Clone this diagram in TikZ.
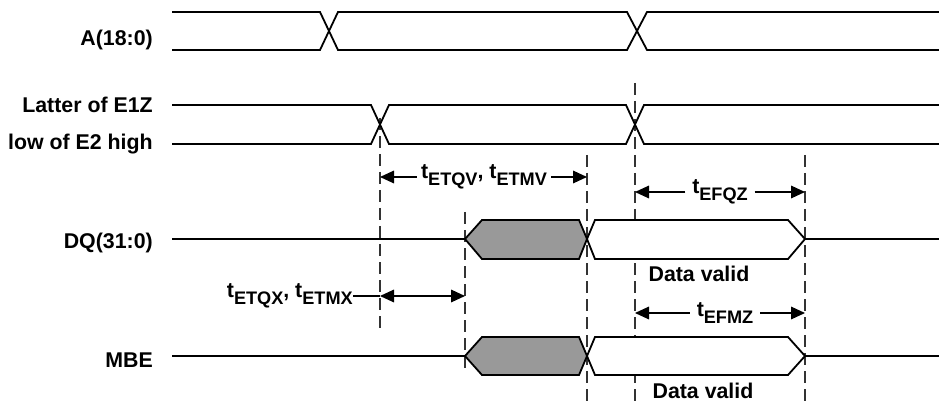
\documentclass[tikz,border=0pt]{standalone}
\usepackage{fontspec}
\setmainfont{Liberation Sans}
\usetikzlibrary{arrows.meta}
\newcommand{\tsig}[1]{t\raisebox{-0.33em}{\fontsize{13.6}{15}\selectfont #1}}
\tikzset{
  wave/.style={line width=1.35pt, line join=miter},
  guide/.style={dash pattern=on 9pt off 4.5pt, line width=0.8pt, black!80},
  lbl/.style={font=\fontsize{16}{19}\selectfont\bfseries, inner sep=0pt},
  tm/.style={-{Triangle[length=10.5pt,width=9.5pt]}, line width=0.9pt},
  tmm/.style={{Triangle[length=10.5pt,width=9.5pt]}-{Triangle[length=10.5pt,width=9.5pt]}, line width=0.9pt},
}
\begin{document}
\begin{tikzpicture}[x=0.75pt,y=-0.75pt]
\useasboundingbox (0,0) rectangle (939,406);
\coordinate (g1t) at (380,118);
\coordinate (g1b) at (380,330);
\coordinate (g2t) at (465,212);
\coordinate (g2b) at (465,368);
\coordinate (g3t) at (587,155);
\coordinate (g3b) at (587,406);
\coordinate (g4t) at (635,83);
\coordinate (g4b) at (635,406);
\coordinate (g5t) at (805,155);
\coordinate (g5b) at (805,406);
\draw[guide] (g1t) -- (g1b);
\draw[guide] (g2t) -- (g2b);
\draw[guide] (g3t) -- (g3b);
\draw[guide] (g4t) -- (g4b);
\draw[guide] (g5t) -- (g5b);
\node[lbl, anchor=east] (asig) at (153,40) {A(18:0)};
\node[lbl, anchor=east] (eone) at (153,105) {Latter of E1Z};
\node[lbl, anchor=east] (etwo) at (153,144) {low of E2 high};
\node[lbl, anchor=east] (dqsig) at (153,243) {DQ(31:0)};
\node[lbl, anchor=east] (mbesig) at (153,360) {MBE};
\draw[wave] (172,12) -- (320,12) -- (338,50) -- (627,50) -- (647,12) -- (939,12);
\draw[wave] (172,50) -- (320,50) -- (338,12) -- (627,12) -- (647,50) -- (939,50);
\draw[wave] (172,105) -- (371,105) -- (389,144) -- (626,144) -- (644,105) -- (939,105);
\draw[wave] (172,144) -- (371,144) -- (389,105) -- (626,105) -- (644,144) -- (939,144);
\draw[wave] (172,239) -- (465,239);
\draw[wave, fill=black!40] (465,239) -- (482,220) -- (579,220) -- (587,239) -- (579,259) -- (482,259) -- cycle;
\draw[wave, fill=white] (587,239) -- (595,220) -- (788,220) -- (805,239) -- (788,259) -- (595,259) -- cycle;
\draw[wave] (805,239) -- (939,239);
\draw[wave] (172,356) -- (465,356);
\draw[wave, fill=black!40] (465,356) -- (482,337) -- (579,337) -- (587,356) -- (579,375) -- (482,375) -- cycle;
\draw[wave, fill=white] (587,356) -- (595,337) -- (788,337) -- (805,356) -- (788,375) -- (595,375) -- cycle;
\draw[wave] (805,356) -- (939,356);
\node[lbl] (dqvalid) at (699,274) {Data valid};
\node[lbl] (mbevalid) at (703,391) {Data valid};
\coordinate (qv1) at (380,177);
\coordinate (qv2) at (587,177);
\node[lbl, inner xsep=3pt] (tqv) at (484,177) {\tsig{ETQV}, \tsig{ETMV}};
\draw[tm] (tqv.west) -- (qv1);
\draw[tm] (tqv.east) -- (qv2);
\coordinate (fq1) at (635,192);
\coordinate (fq2) at (805,192);
\node[lbl, inner xsep=5pt] (tfqz) at (720,192) {\tsig{EFQZ}};
\draw[tm] (tfqz.west) -- (fq1);
\draw[tm] (tfqz.east) -- (fq2);
\coordinate (qx1) at (380,296);
\coordinate (qx2) at (465,296);
\node[lbl, anchor=east] (tqx) at (353,296) {\tsig{ETQX}, \tsig{ETMX}};
\draw[line width=0.9pt] (tqx.east) -- (qx1);
\draw[tmm] (qx1) -- (qx2);
\coordinate (fm1) at (635,313);
\coordinate (fm2) at (805,313);
\node[lbl, inner xsep=5pt] (tfmz) at (725,313) {\tsig{EFMZ}};
\draw[tm] (tfmz.west) -- (fm1);
\draw[tm] (tfmz.east) -- (fm2);
\end{tikzpicture}
\end{document}
